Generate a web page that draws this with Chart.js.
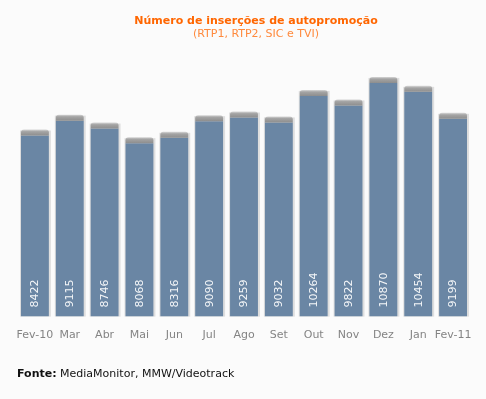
<!DOCTYPE html>
<html>
<head>
<meta charset="utf-8">
<script src="https://cdn.jsdelivr.net/npm/chart.js@4/dist/chart.umd.min.js"></script>
<style>
  html, body { margin:0; padding:0; background:#fbfbfb; }
  #wrap { position:relative; width:486px; height:399px; font-family:"DejaVu Sans", Verdana, sans-serif; }
  #title { position:absolute; left:13px; width:486px; top:14px; text-align:center; font-size:11px; line-height:13px; color:#ff6600; font-weight:bold; }
  #subtitle { position:absolute; left:13px; width:486px; top:27px; text-align:center; font-size:11px; line-height:13px; color:#ff8a3d; }
  #footer { position:absolute; left:17px; top:367px; font-size:11px; line-height:13px; color:#111; }
  canvas { position:absolute; left:0; top:0; }
</style>
</head>
<body>
<div id="wrap">
  <canvas id="c" width="486" height="399"></canvas>
  <div id="title">Número de inserções de autopromoção</div>
  <div id="subtitle">(RTP1, RTP2, SIC e TVI)</div>
  <div id="footer"><b>Fonte:</b> MediaMonitor, MMW/Videotrack</div>
</div>
<script>
const categories = ["Fev-10","Mar","Abr","Mai","Jun","Jul","Ago","Set","Out","Nov","Dez","Jan","Fev-11"];
const values = [8422, 9115, 8746, 8068, 8316, 9090, 9259, 9032, 10264, 9822, 10870, 10454, 9199];
const yMax = 12000;

const barDecor = {
  id: 'barDecor',
  beforeDatasetsDraw(chart) {
    const ctx = chart.ctx;
    const meta = chart.getDatasetMeta(0);
    ctx.save();
    meta.data.forEach(b => {
      const w = b.width;
      ctx.fillStyle = '#dedede';
      ctx.fillRect(b.x - w/2 - 1, b.y - 5, w + 3, b.base - b.y + 5);
    });
    ctx.restore();
  },
  afterDatasetsDraw(chart) {
    const ctx = chart.ctx;
    const meta = chart.getDatasetMeta(0);
    ctx.save();
    meta.data.forEach((b, i) => {
      const w = b.width;
      const g = ctx.createLinearGradient(0, b.y - 6, 0, b.y);
      g.addColorStop(0, 'rgba(190,190,190,0.6)');
      g.addColorStop(0.35, '#a4a4a4');
      g.addColorStop(1, '#8e8e8e');
      ctx.fillStyle = g;
      ctx.beginPath();
      ctx.roundRect(b.x - w/2, b.y - 6, w, 6, [3,3,0,0]);
      ctx.fill();
      ctx.save();
      ctx.translate(b.x, b.base - 9);
      ctx.rotate(-Math.PI/2);
      ctx.font = '11px "DejaVu Sans", sans-serif';
      ctx.fillStyle = '#f4f6f8';
      ctx.textAlign = 'left';
      ctx.textBaseline = 'middle';
      ctx.fillText(String(values[i]), 0, 0.5);
      ctx.restore();
    });
    ctx.restore();
  }
};

new Chart(document.getElementById('c'), {
  type: 'bar',
  data: {
    labels: categories,
    datasets: [{
      data: values,
      backgroundColor: '#6a86a4',
      borderWidth: 0,
      barPercentage: 0.8,
      categoryPercentage: 1.0
    }]
  },
  options: {
    responsive: false,
    animation: false,
    layout: { padding: { left: 17.5, right: 15.5, top: 58.6, bottom: 44.4 } },
    plugins: { legend: { display: false }, tooltip: { enabled: false } },
    scales: {
      x: {
        grid: { display: false, drawTicks: false },
        border: { display: false },
        ticks: { color: '#848484', font: { family: '"DejaVu Sans", sans-serif', size: 11 }, padding: 12.4, maxRotation: 0, autoSkip: false }
      },
      y: { display: false, min: 0, max: yMax }
    }
  },
  plugins: [barDecor]
});
</script>
</body>
</html>
